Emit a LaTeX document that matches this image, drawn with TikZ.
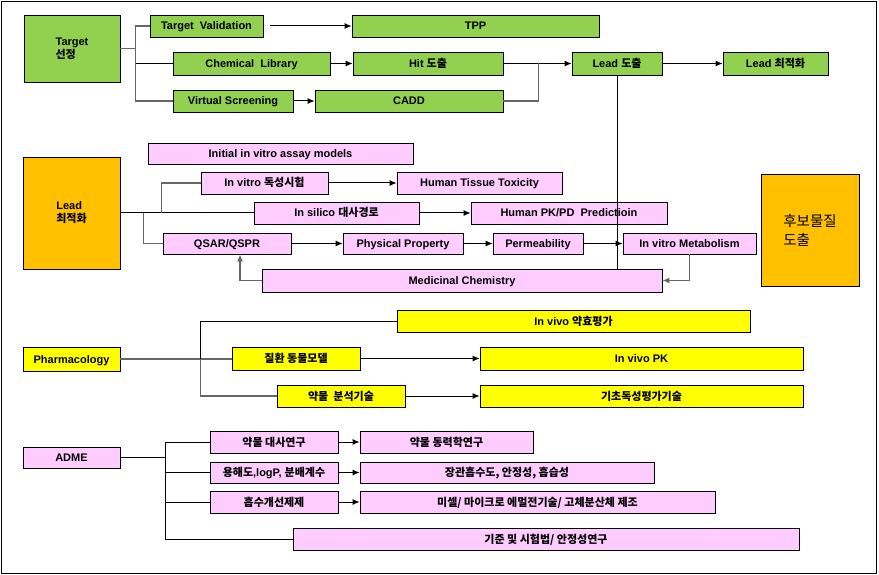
\documentclass[tikz,border=0pt]{standalone}
\usepackage{fontspec}
\setmainfont{Liberation Sans}
\newfontfamily\krfont{Noto Sans CJK KR}
\newcommand{\kr}[1]{{\krfont\fontsize{11}{13}\selectfont #1}}
\usetikzlibrary{arrows.meta}
\definecolor{boxgreen}{RGB}{146,208,80}
\definecolor{boxpink}{RGB}{255,204,255}
\definecolor{boxyellow}{RGB}{255,255,0}
\definecolor{boxorange}{RGB}{255,192,0}
\tikzset{
  box/.style={draw=black, line width=0.8pt, inner sep=1pt, minimum height=22pt,
    text height=9pt, text depth=1pt, font=\fontsize{11}{13}\selectfont\bfseries},
  bigbox/.style={text height={}, text depth={}, align=left},
  gbox/.style={box, fill=boxgreen},
  pbox/.style={box, fill=boxpink},
  ybox/.style={box, fill=boxyellow},
  obox/.style={box, fill=boxorange},
  link/.style={line width=1pt, black},
  glink/.style={line width=1.3pt, black!60},
  flow/.style={link, -{Latex[length=7pt,width=6pt]}},
  gflow/.style={glink, -{Latex[length=7pt,width=6pt]}}
}
\begin{document}
\begin{tikzpicture}[x=1pt, y=-1pt]
    \useasboundingbox (0,0) rectangle (879,575);
    % Rahmen
    \draw[line width=1pt] (1.5,1.5) rectangle (876.5,573.5);

    % Target
    \node[gbox, bigbox, minimum width=96pt, minimum height=67pt] (target) at (72,48.5) {Target\\\kr{선정}};
    \node[gbox, minimum width=113pt] (tval) at (206.5,26) {Target\ \ Validation};
    \node[gbox, minimum width=247pt] (tpp) at (475.5,26) {TPP};
    \node[gbox, minimum width=157pt, minimum height=23pt] (chemlib) at (251.5,63.5) {Chemical\ \ Library};
    \node[gbox, minimum width=150pt, minimum height=23pt] (hit) at (428,63.5) {Hit \kr{도출}};
    \node[gbox, minimum width=120pt] (vscreen) at (233,101) {Virtual Screening};
    \node[gbox, minimum width=188pt] (cadd) at (409,101) {CADD};
    \node[gbox, minimum width=90pt, minimum height=23pt] (leaddo) at (617,63.5) {Lead \kr{도출}};
    \node[gbox, minimum width=105pt, minimum height=23pt] (leadbest) at (775.5,63.5) {Lead\ \kr{최적화}};

    \draw[glink] (target.east) -- ++(15,0) |- (tval.west);
    \draw[link] ([xshift=15pt]target.east) -- ++(0,15.5) |- (chemlib.west);
    \draw[glink] ([xshift=15pt]target.east) |- (vscreen.west);
    \draw[flow, shorten <=7pt] (tval) -- (tpp);
    \draw[flow] (chemlib) -- (hit);
    \draw[flow] (vscreen) -- (cadd);
    \draw[flow] (hit) -- (leaddo);
    \draw[glink] (cadd.east) -| ([xshift=35pt]hit.east);
    \draw[flow] (leaddo) -- (leadbest);

    % Lead 최적화
    \node[obox, bigbox, minimum width=97pt, minimum height=112pt] (leadopt) at (71.5,213) {Lead\\\kr{최적화}};
    \node[pbox, minimum width=265pt, minimum height=21pt] (initial) at (280.5,153.5) {Initial in vitro assay models};
    \node[pbox, minimum width=127pt] (invtox) at (264.5,183) {In vitro \kr{독성시험}};
    \node[pbox, minimum width=165pt] (htt) at (479.5,183) {Human Tissue Toxicity};
    \node[pbox, minimum width=165pt] (insilico) at (336.5,213) {In silico \kr{대사경로}};
    \node[pbox, minimum width=196pt] (hpkpd) at (569,213) {Human PK/PD\ \ Predictioin};
    \node[pbox, minimum width=128pt, minimum height=21pt] (qsar) at (227,243.5) {QSAR/QSPR};
    \node[pbox, minimum width=120pt, minimum height=21pt] (physprop) at (403,243.5) {Physical Property};
    \node[pbox, minimum width=90pt, minimum height=21pt] (perm) at (538,243.5) {Permeability};
    \node[pbox, minimum width=133pt, minimum height=21pt] (invmet) at (689.5,243.5) {In vitro Metabolism};
    \node[pbox, minimum width=400pt, minimum height=23pt] (medchem) at (462,280.5) {Medicinal Chemistry};
    \node[obox, bigbox, minimum width=98pt, minimum height=112pt,
      font=\krfont\fontsize{14.5}{19}\selectfont] (hubo) at (810,230) {후보물질\\도출};

    \draw[link] (leadopt.east) -- (insilico.west);
    \draw[glink] ([xshift=41pt]leadopt.east) |- (invtox.west);
    \draw[glink] ([xshift=23pt]leadopt.east) |- (qsar.west);
    \draw[flow] (invtox) -- (htt);
    \draw[flow] (insilico) -- (hpkpd);
    \draw[flow] (qsar) -- (physprop);
    \draw[flow] (physprop) -- (perm);
    \draw[flow] (perm) -- (invmet);
    \draw[gflow] (invmet.south) |- (medchem.east);
    \draw[gflow] (medchem.west) -| ([xshift=13pt]qsar.south);
    \draw[link] (leaddo.south) -- (leaddo.south |- medchem.north);

    % Pharmacology
    \node[ybox, minimum width=97pt, minimum height=24pt] (pharma) at (71.5,359) {Pharmacology};
    \node[ybox, minimum width=353pt] (invivoeff) at (573.5,321) {In vivo \kr{약효평가}};
    \node[ybox, minimum width=128pt, minimum height=23pt] (disease) at (296,358.5) {\kr{질환 동물모델}};
    \node[ybox, minimum width=323pt, minimum height=23pt] (invivopk) at (641.5,358.5) {In vivo PK};
    \node[ybox, minimum width=128pt] (analysis) at (341,396) {\kr{약물\ \ 분석기술}};
    \node[ybox, minimum width=323pt] (basictox) at (641.5,396) {\kr{기초독성평가기술}};

    \draw[glink] (pharma.east) -- (pharma.east -| disease.west);
    \draw[link] ([xshift=80pt]pharma.east) |- (invivoeff.west);
    \draw[glink] ([xshift=80pt]pharma.east) |- (analysis.west);
    \draw[flow] (disease) -- (invivopk);
    \draw[flow] (analysis) -- (basictox);

    % ADME
    \node[pbox, minimum width=97pt, minimum height=21pt] (adme) at (71.5,457.5) {ADME};
    \node[pbox, minimum width=128pt] (metab) at (274,442) {\kr{약물 대사연구}};
    \node[pbox, minimum width=173pt] (pkstudy) at (446.5,442) {\kr{약물 동력학연구}};
    \node[pbox, minimum width=128pt, minimum height=21pt] (solub) at (274,472.5) {\kr{용해도},logP, \kr{분배계수}};
    \node[pbox, minimum width=294pt, minimum height=21pt] (absorb) at (507,472.5) {\kr{장관흡수도, 안정성, 흡습성}};
    \node[pbox, minimum width=128pt] (formul) at (274,502) {\kr{흡수개선제제}};
    \node[pbox, minimum width=355pt] (micelle) at (537.5,502) {\kr{미셀/ 마이크로 에멀전기술/ 고체분산체 제조}};
    \node[pbox, minimum width=506pt] (standard) at (546,539) {\kr{기준 및 시험법/ 안정성연구}};

    \draw[link] (adme.east) -- ++(45,0);
    \draw[link] ([xshift=45pt]adme.east) |- (metab.west);
    \draw[link] ([xshift=45pt]adme.east) |- (solub.west);
    \draw[link] ([xshift=45pt]adme.east) |- (formul.west);
    \draw[link] ([xshift=45pt]adme.east) |- (standard.west);
    \draw[flow] (metab) -- (pkstudy);
    \draw[flow] (solub) -- (absorb);
    \draw[flow] (formul) -- (micelle);
\end{tikzpicture}
\end{document}
